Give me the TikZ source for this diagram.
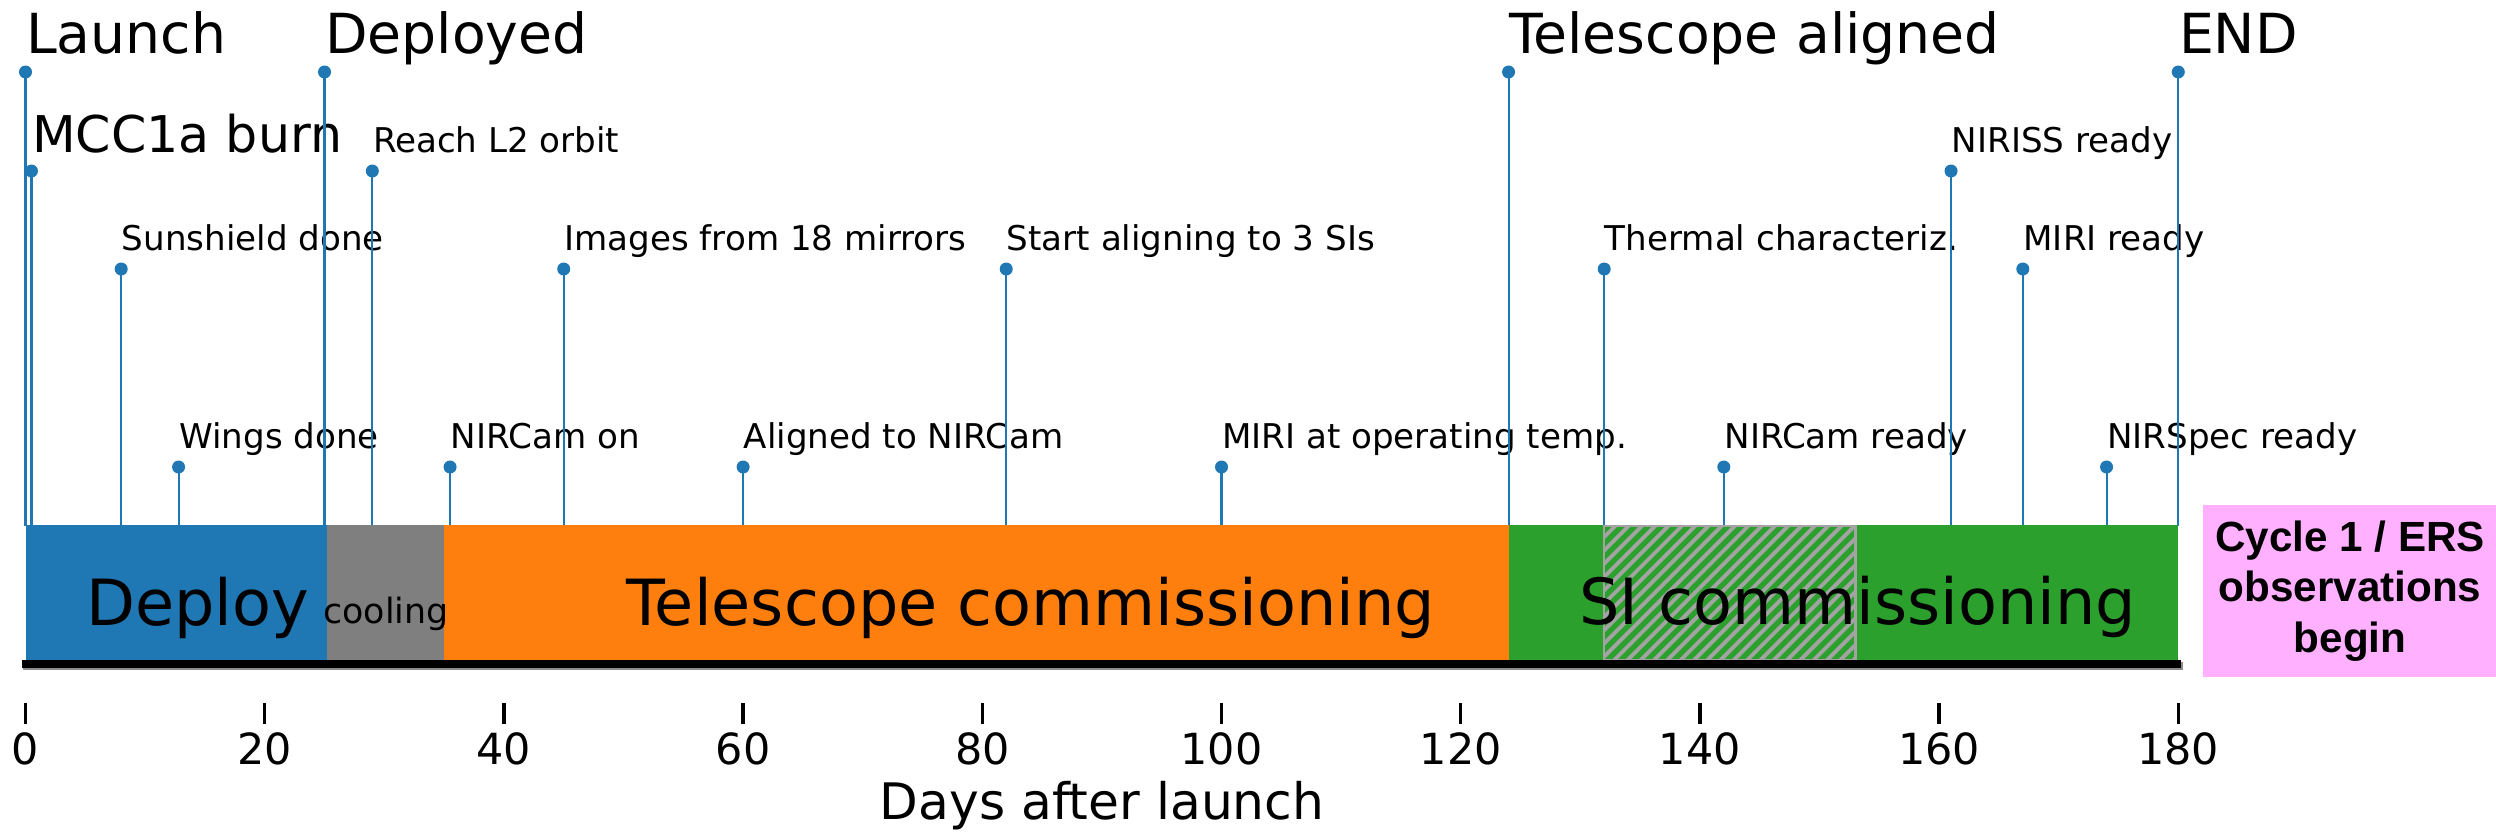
\documentclass[tikz,border=0pt]{standalone}
\usepackage{fontspec}
\setmainfont{DejaVu Sans}
\newfontfamily\helv{Liberation Sans}
\definecolor{mplblue}{HTML}{1F77B4}
\definecolor{mplorange}{HTML}{FF7F0E}
\definecolor{mplgreen}{HTML}{2CA02C}
\definecolor{mplgray}{HTML}{7F7F7F}
\definecolor{hatchgray}{HTML}{A3A3A3}
\definecolor{pinkbox}{RGB}{255,176,255}
\tikzset{
  stemline/.style={draw=mplblue, line width=0.6pt},
  stemdot/.style={fill=mplblue},
  bigl/.style={font=\fontsize{15.7}{18}\selectfont, anchor=base west, inner sep=0pt},
  midl/.style={font=\fontsize{14.4}{17}\selectfont, anchor=base west, inner sep=0pt},
  smalll/.style={font=\fontsize{9.7}{12}\selectfont, anchor=base west, inner sep=0pt},
  barlabel/.style={font=\fontsize{18.1}{21}\selectfont, anchor=base, inner sep=0pt},
  ticklab/.style={font=\fontsize{12.2}{14}\selectfont, anchor=base, inner sep=0pt},
  tickmark/.style={draw=black, line width=1pt},
}
\begin{document}
\begin{tikzpicture}[x=0.01cm, y=-0.01cm]
\useasboundingbox (0,0) rectangle (2496,836);
% stems and labels
\foreach \d/\ly/\txt/\sty [count=\i] in {
  0/72/Launch/bigl,
  0.5/171/MCC1a burn/midl,
  8/269/Sunshield done/smalll,
  12.8/467/Wings done/smalll,
  25/72/Deployed/bigl,
  29/171/Reach L2 orbit/smalll,
  35.5/467/NIRCam on/smalll,
  45/269/Images from 18 mirrors/smalll,
  60/467/Aligned to NIRCam/smalll,
  82/269/Start aligning to 3 SIs/smalll,
  100/467/MIRI at operating temp./smalll,
  124/72/Telescope aligned/bigl,
  132/269/Thermal characteriz./smalll,
  142/467/NIRCam ready/smalll,
  161/171/NIRISS ready/smalll,
  167/269/MIRI ready/smalll,
  174/467/NIRSpec ready/smalll,
  180/72/END/bigl}{
  \coordinate (dot\i) at ({25.5+11.96*\d},\ly);
  \coordinate (foot\i) at ({25.5+11.96*\d},526);
  \draw[stemline] (dot\i) -- (foot\i);
  \fill[stemdot] (dot\i) circle (0.065cm);
  \node[\sty] (lab\i) at ({25.5+11.96*\d},{\ly-19}) {\txt};
}
% phase bars
\fill[mplblue] (25.5,525) rectangle ({25.5+11.96*25.2},661);
\fill[mplgray] ({25.5+11.96*25.2},525) rectangle ({25.5+11.96*35},661);
\fill[mplorange] ({25.5+11.96*35},525) rectangle ({25.5+11.96*124},661);
\fill[mplgreen] ({25.5+11.96*124},525) rectangle ({25.5+11.96*180},661);
% hatched part
\begin{scope}
  \clip ({25.5+11.96*132},526) rectangle ({25.5+11.96*153},660);
  \foreach \k in {-12,...,22}{
    \draw[hatchgray, line width=1.1pt] ({25.5+11.96*132+\k*13.3},670) -- ++(160,-160);
  }
\end{scope}
\draw[hatchgray, line width=0.7pt] ({25.5+11.96*132},526) rectangle ({25.5+11.96*153},660);
% bar labels
\node[barlabel] (deploy) at (197.5,625) {Deploy};
\node[barlabel, font=\fontsize{9.9}{12}\selectfont] (cooling) at (386,623) {cooling};
\node[barlabel] (telcom) at (1031,625) {Telescope commissioning};
\node[barlabel] (sicom) at (1857.5,624) {SI commissioning};
% axis line
\fill[black!45] (23,662) rectangle (2183,670);
\fill[black] (22,660) rectangle (2181,668);
% ticks
\foreach \t in {0,20,...,180}{
  \coordinate (ta\t) at ({25.5+11.96*\t},703);
  \coordinate (tb\t) at ({25.5+11.96*\t},724);
  \draw[tickmark] (ta\t) -- (tb\t);
  \node[ticklab] (tl\t) at ({25.5+11.96*\t},764) {\t};
}
\node[font=\fontsize{14.3}{17}\selectfont, anchor=base, inner sep=0pt] (xlabel) at (1102,819) {Days after launch};
% cycle 1 box
\fill[pinkbox] (2203,505) rectangle (2496,677);
\node[font=\helv\bfseries\fontsize{12}{14.4}\selectfont, align=center, inner sep=0pt] (cycle) at (2350,591) {Cycle 1 / ERS\\observations\\begin};
\end{tikzpicture}
\end{document}
